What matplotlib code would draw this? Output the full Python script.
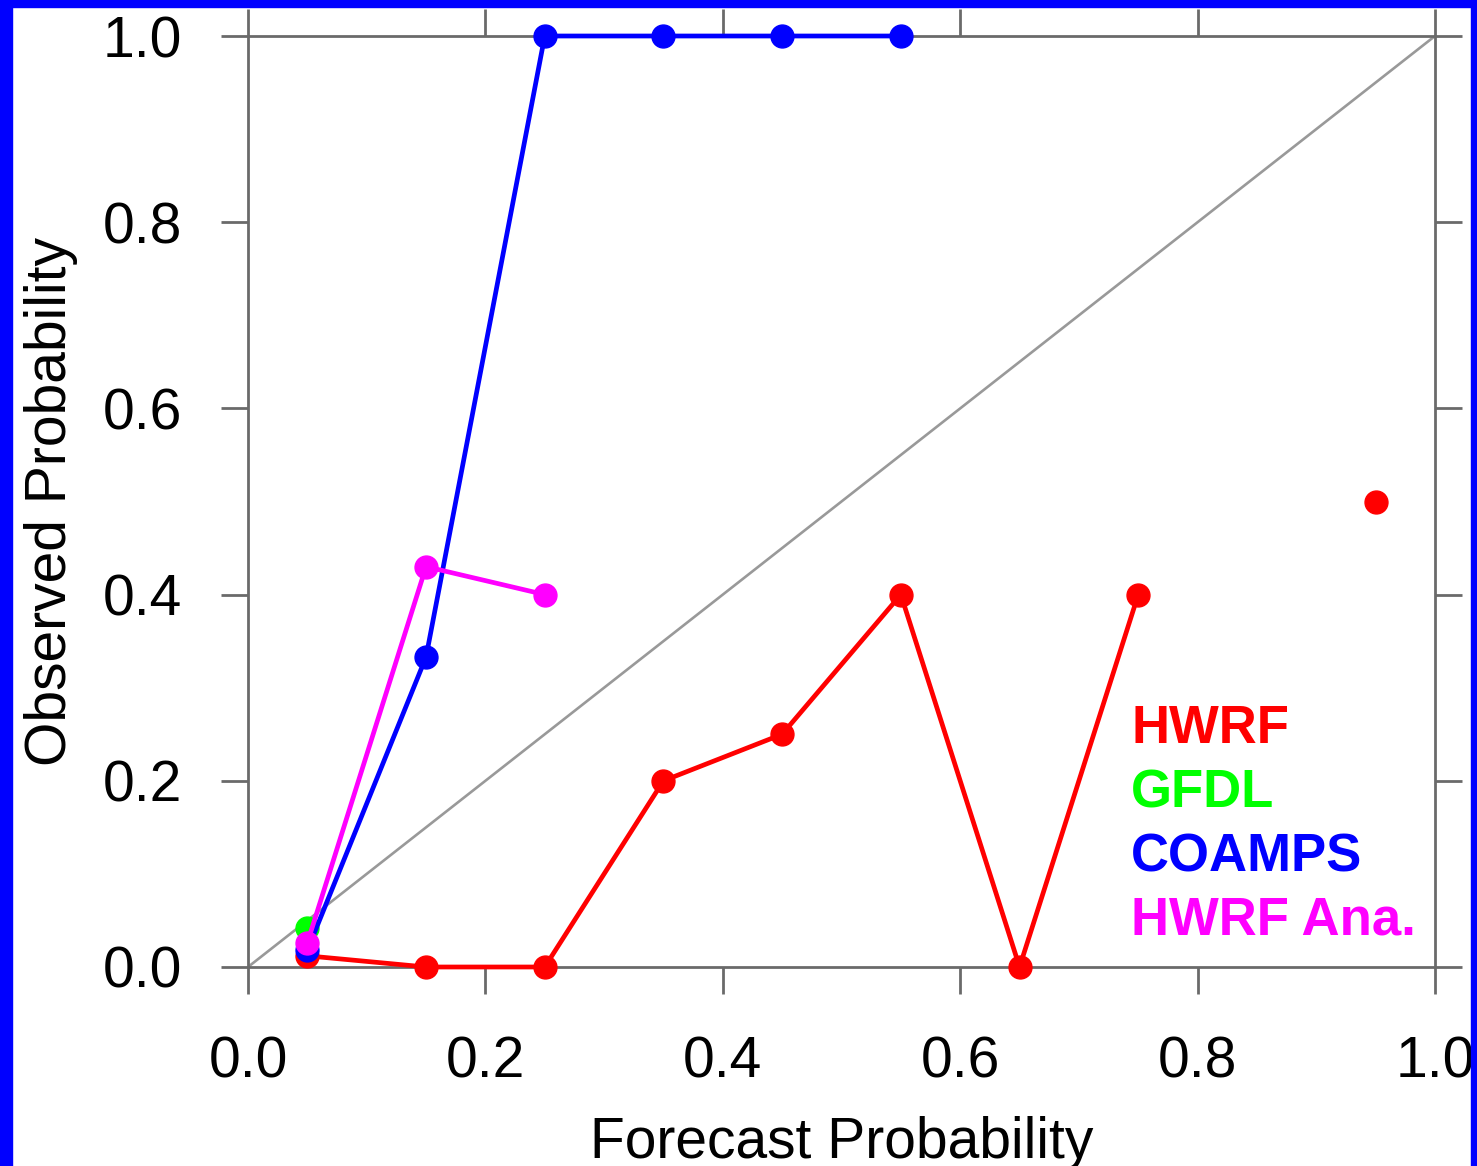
import numpy as np
import matplotlib
matplotlib.use("Agg")
import matplotlib.pyplot as plt
from matplotlib.patches import Rectangle

plt.rcParams['font.family'] = ['Liberation Sans', 'DejaVu Sans']

# forecast probability bins
fcst = [0.05, 0.15, 0.25, 0.35, 0.45, 0.55, 0.65, 0.75, 0.85, 0.95]

# observed frequency per model (nan = no forecasts in bin)
hwrf = [0.012, 0.0, 0.0, 0.2, 0.25, 0.4, 0.0, 0.4, np.nan, 0.5]
gfdl = [0.042, np.nan, np.nan, np.nan, np.nan, np.nan, np.nan, np.nan, np.nan, np.nan]
coamps = [0.018, 0.333, 1.0, 1.0, 1.0, 1.0, np.nan, np.nan, np.nan, np.nan]
hwrf_ana = [0.026, 0.43, 0.4, np.nan, np.nan, np.nan, np.nan, np.nan, np.nan, np.nan]

names = ["HWRF", "GFDL", "COAMPS", "HWRF Ana."]
colors = ["#ff0000", "#00ff00", "#0000ff", "#ff00ff"]
series = [hwrf, gfdl, coamps, hwrf_ana]

ticks = [0.0, 0.2, 0.4, 0.6, 0.8, 1.0]
tick_labels = ["0.0", "0.2", "0.4", "0.6", "0.8", "1.0"]

W, H = 1477, 1166
fig = plt.figure(figsize=(W / 100, H / 100), dpi=100)
ax = fig.add_axes([248 / W, (H - 967) / H, (1435 - 248) / W, (967 - 36) / H])

gray = "#6a6a6a"
ax.plot([0, 1], [0, 1], color="#999999", lw=1.9, zorder=2)

for vals, c in zip(series, colors):
    ax.plot(fcst, vals, color=c, lw=3.4, marker="o", markersize=16.5,
            clip_on=False, zorder=3)

ax.set_xlim(0, 1)
ax.set_ylim(0, 1)
ax.set_xticks(ticks)
ax.set_xticklabels(tick_labels)
ax.set_yticks(ticks)
ax.set_yticklabels(tick_labels)

for s in ax.spines.values():
    s.set_color(gray)
    s.set_linewidth(2.0)

ax.tick_params(direction="out", length=19.5, width=2.0, color=gray,
               top=True, right=True, labelsize=41, labelcolor="black")
ax.tick_params(axis="x", pad=30)
ax.tick_params(axis="y", pad=28)

ax.set_xlabel("Forecast Probability", fontsize=41)
ax.xaxis.label.set_verticalalignment("baseline")
ax.xaxis.set_label_coords(0.5, (967 - 1158) / 931)

ax.set_ylabel("Observed Probability", fontsize=41)
ax.yaxis.label.set_verticalalignment("baseline")
ax.yaxis.set_label_coords((66 - 248) / 1187, 0.5)

# legend as colored text labels
legend_y = [0.2406, 0.1708, 0.1031, 0.0344]
for name, c, ly in zip(names, colors, legend_y):
    ax.text(0.744, ly, name, color=c, fontsize=38, fontweight="bold",
            transform=ax.transAxes, va="baseline", ha="left")

# blue frame around the figure
fig.patches.append(Rectangle((0, 0), 12 / W, 1, transform=fig.transFigure,
                             color="#0000ff", zorder=10))
fig.patches.append(Rectangle((0, 1 - 7 / H), 1, 7 / H, transform=fig.transFigure,
                             color="#0000ff", zorder=10))
fig.patches.append(Rectangle((1 - 6 / W, 0), 6 / W, 1, transform=fig.transFigure,
                             color="#0000ff", zorder=10))

fig.savefig("out.png", dpi=100)
